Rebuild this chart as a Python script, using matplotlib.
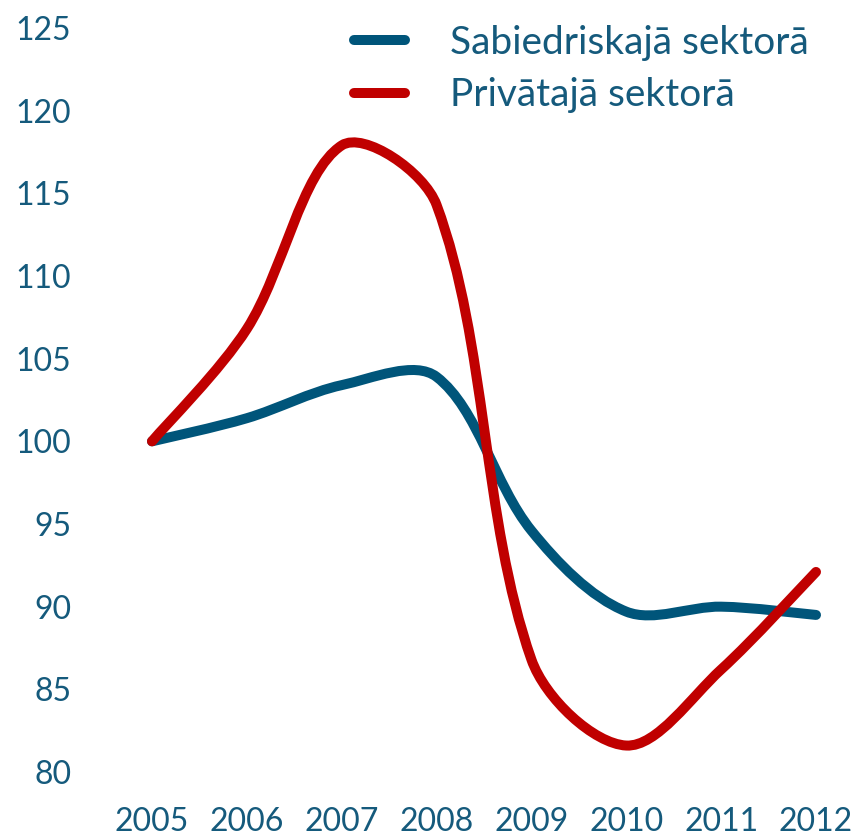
import numpy as np
import matplotlib.pyplot as plt
from matplotlib.path import Path
from matplotlib.patches import PathPatch
from matplotlib.lines import Line2D

plt.rcParams['font.family'] = ['Lato', 'DejaVu Sans']

# data
years = [2005, 2006, 2007, 2008, 2009, 2010, 2011, 2012]
public_sector = [100, 101.4, 103.4, 103.9, 94.6, 89.7, 90.0, 89.5]
private_sector = [100, 106.8, 117.9, 114.3, 86.8, 81.6, 86.2, 92.1]
series_labels = ['Sabiedriskajā sektorā', 'Privātajā sektorā']
y_ticks = [80, 85, 90, 95, 100, 105, 110, 115, 120, 125]

blue = '#00557a'
red = '#c00000'
text_color = '#155a7c'

fig = plt.figure(figsize=(8.57, 8.35), dpi=100)
ax = fig.add_axes([152 / 857, 63 / 835, 664 / 857, 744 / 835])
ax.set_xlim(2005, 2012)
ax.set_ylim(80, 125)


def smooth_path(xs, ys):
    # Excel-like smoothed line: cubic Bezier, control points scaled by segment lengths on screen
    pts = np.column_stack([xs, ys]).astype(float)
    disp = ax.transData.transform(pts)
    n = len(pts)
    d = np.hypot(*np.diff(disp, axis=0).T)
    verts = [tuple(pts[0])]
    codes = [Path.MOVETO]
    for i in range(n - 1):
        if i == 0:
            c1 = pts[0] + (pts[1] - pts[0]) / 6
        else:
            t0 = pts[i + 1] - pts[i - 1]
            c1 = pts[i] + t0 / 3 * d[i] / (d[i - 1] + d[i])
        j = i + 1
        if j == n - 1:
            c2 = pts[j] - (pts[j] - pts[j - 1]) / 6
        else:
            t1 = pts[j + 1] - pts[j - 1]
            c2 = pts[j] - t1 / 3 * d[j - 1] / (d[j - 1] + d[j])
        verts += [tuple(c1), tuple(c2), tuple(pts[j])]
        codes += [Path.CURVE4] * 3
    return Path(verts, codes)


for vals, col in [(public_sector, blue), (private_sector, red)]:
    patch = PathPatch(smooth_path(years, vals), facecolor='none', edgecolor=col,
                      lw=7.2, capstyle='round', joinstyle='round', clip_on=False)
    ax.add_patch(patch)

for s in ax.spines.values():
    s.set_visible(False)
ax.set_xticks(years)
ax.set_xticklabels([str(y) for y in years])
ax.set_yticks(y_ticks)
ax.tick_params(axis='both', length=0, labelsize=23, labelcolor=text_color)
ax.tick_params(axis='x', pad=25)
ax.tick_params(axis='y', pad=58)

handles = [Line2D([], [], color=blue, lw=7.2, solid_capstyle='round'),
           Line2D([], [], color=red, lw=7.2, solid_capstyle='round')]
leg = fig.legend(handles, series_labels, loc='upper left',
                 bbox_to_anchor=(354 / 857, 1 - 25 / 835), frameon=False,
                 fontsize=28, handlelength=1.31, handletextpad=1.16,
                 labelspacing=0.42, borderpad=0, borderaxespad=0)
for t in leg.get_texts():
    t.set_color(text_color)

fig.savefig('out.png', dpi=100)
